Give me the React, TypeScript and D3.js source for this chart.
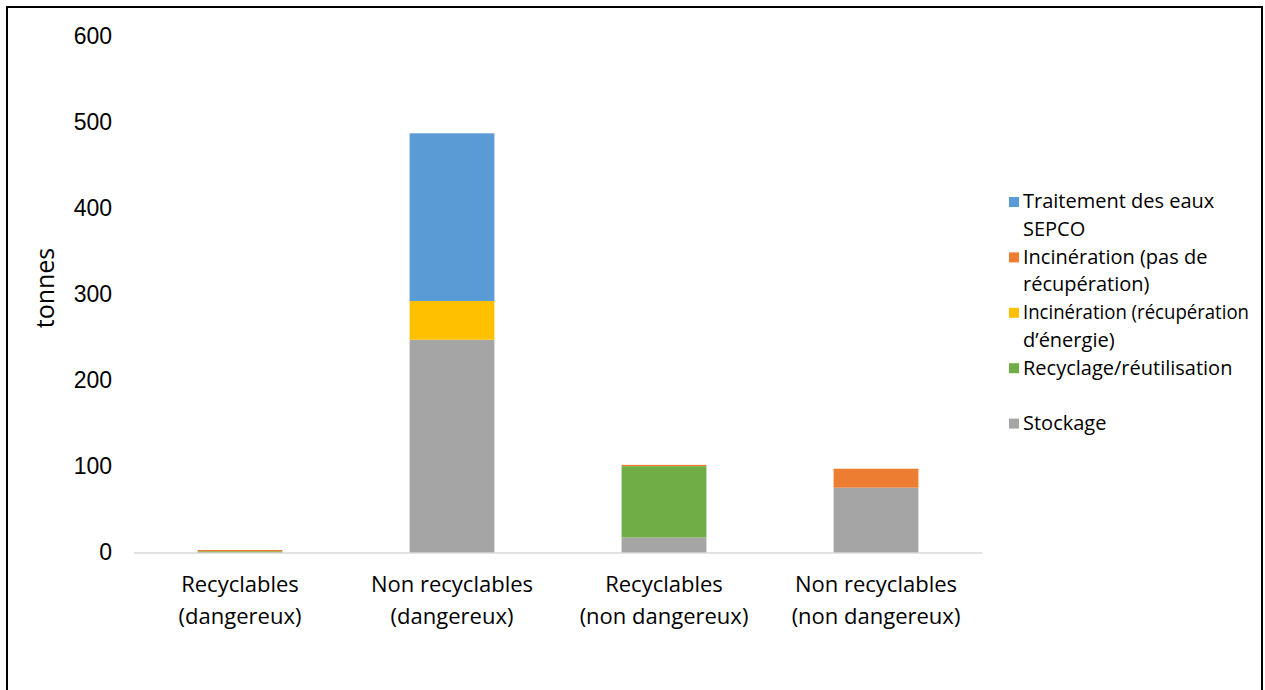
import React from "react";
import * as d3 from "d3";

const categories = [
  ["Recyclables", "(dangereux)"],
  ["Non recyclables", "(dangereux)"],
  ["Recyclables", "(non dangereux)"],
  ["Non recyclables", "(non dangereux)"],
];
const stockage = [0, 248, 18, 76];
const recyclage = [2, 0, 83, 0];
const incinEnergie = [0, 45, 0, 0];
const incinSansRecup = [1.5, 0, 1.5, 22];
const traitement = [0, 195, 0, 0];
const yTicks = [0, 100, 200, 300, 400, 500, 600];

const seriesNames = [
  "Stockage",
  "Recyclage/réutilisation",
  "Incinération (récupération d’énergie)",
  "Incinération (pas de récupération)",
  "Traitement des eaux SEPCO",
];
const seriesValues = [stockage, recyclage, incinEnergie, incinSansRecup, traitement];
const colors = ["#A5A5A5", "#70AD47", "#FFC000", "#ED7D31", "#5B9BD5"];

const legendItems = [
  { idx: 4, lines: ["Traitement des eaux", "SEPCO"] },
  { idx: 3, lines: ["Incinération (pas de", "récupération)"] },
  { idx: 2, lines: ["Incinération (récupération", "d’énergie)"] },
  { idx: 1, lines: ["Recyclage/réutilisation", ""] },
  { idx: 0, lines: ["Stockage"] },
];

export default function App() {
  const W = 1265, H = 690;
  const x = d3.scaleBand<number>().domain(d3.range(categories.length)).range([134, 982]).paddingInner(0.6).paddingOuter(0.3);
  const y = d3.scaleLinear().domain([0, 600]).range([553, 37]);

  const rows = categories.map((_, i) => {
    const r: any = { i };
    seriesValues.forEach((s, k) => (r["s" + k] = s[i]));
    return r;
  });
  const stack = d3.stack<any>().keys(seriesValues.map((_, k) => "s" + k))(rows);

  const font = "'Liberation Sans', Arial, sans-serif";
  const legFont = "'Open Sans', 'Noto Sans', sans-serif";

  const lh = 27.7;
  let ly = 203;
  const legendEls: any[] = [];
  legendItems.forEach((it, j) => {
    const yy = ly;
    legendEls.push(
      <g key={j}>
        <rect x={1009} y={yy - 6} width={10} height={10} fill={colors[it.idx]} />
        {it.lines.map((t, k) => (
          <text
            key={k}
            x={1023}
            y={yy + k * lh}
            dominantBaseline="middle"
            fontSize={20}
            fontFamily={legFont}
            fill="#000"
            {...(t === "Incinération (récupération" ? { textLength: 226, lengthAdjust: "spacingAndGlyphs" } : {})}
          >
            {t}
          </text>
        ))}
      </g>
    );
    ly += it.lines.length * lh;
  });

  return (
    <svg width={W} height={H} style={{ position: "absolute", left: 0, top: 0, background: "#fff" }}>
      <rect x={7} y={7} width={1255} height={700} fill="#fff" stroke="#000" strokeWidth={2} />
      {stack.map((layer, k) => (
        <g key={k} fill={colors[k]}>
          {layer.map((d, i) =>
            d[1] - d[0] > 0 ? (
              <rect key={i} x={x(i)} y={y(d[1])} width={x.bandwidth()} height={y(d[0]) - y(d[1])} />
            ) : null
          )}
        </g>
      ))}
      <line x1={134} x2={982} y1={y(0)} y2={y(0)} stroke="#D9D9D9" strokeWidth={1.5} />
      {yTicks.map((t) => (
        <text key={t} x={112} y={y(t) + 1} textAnchor="end" dominantBaseline="middle" fontSize={23} fontFamily={font} fill="#000">
          {t}
        </text>
      ))}
      <text transform={`translate(47,288) rotate(-90)`} textAnchor="middle" dominantBaseline="middle" fontSize={25} fontFamily={legFont} fill="#000">
        tonnes
      </text>
      {categories.map((c, i) => (
        <g key={i}>
          {c.map((t, k) => (
            <text key={k} x={(x(i) as number) + x.bandwidth() / 2} y={586 + k * 32} textAnchor="middle" dominantBaseline="middle" fontSize={22} fontFamily={legFont} fill="#000">
              {t}
            </text>
          ))}
        </g>
      ))}
      {legendEls}
    </svg>
  );
}
